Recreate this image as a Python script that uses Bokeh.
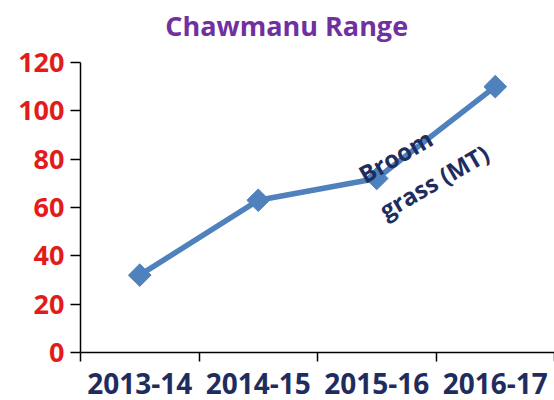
from bokeh.plotting import figure
from bokeh.models import Range1d, FixedTicker, Label, ColumnDataSource
from bokeh.embed import file_html
from bokeh.resources import INLINE

categories = ["2013-14", "2014-15", "2015-16", "2016-17"]
values = [32, 63, 72, 110]
y_ticks = [0, 20, 40, 60, 80, 100, 120]
series_name = "Broom\ngrass (MT)"
title_text = "Chawmanu Range"

FONT = "Open Sans"
BLUE = "#4F81BD"
NAVY = "#1F2D5E"
RED = "#E41B1B"
PURPLE = "#7030A0"

W, H = 554, 400
BORDER_BOTTOM = 48
AXIS_TOP_PX = 62  # pixel position of the top (120) tick from the canvas top
frame_h = H - BORDER_BOTTOM
y_max = y_ticks[-1]
y_end = y_max * frame_h / (frame_h - AXIS_TOP_PX)

x_pos = [i + 0.5 for i in range(len(categories))]
src = ColumnDataSource(dict(x=x_pos, y=values, cat=categories))

p = figure(width=W, height=H, output_backend="svg", toolbar_location=None,
           x_range=Range1d(0, len(categories)), y_range=Range1d(0, y_end),
           min_border_left=80, min_border_right=0, min_border_top=0, min_border_bottom=BORDER_BOTTOM)
p.outline_line_color = None
p.grid.visible = False
p.background_fill_color = "white"
p.border_fill_color = "white"

p.line("x", "y", source=src, line_color=BLUE, line_width=5.5)
p.scatter("x", "y", source=src, marker="square", size=16, angle=45, angle_units="deg", color=BLUE)

# y axis
ya = p.yaxis[0]
ya.ticker = FixedTicker(ticks=y_ticks)
ya.bounds = (0, y_max)
ya.major_tick_out = 10
ya.major_tick_in = 0
ya.minor_tick_out = 0
ya.minor_tick_in = 0
ya.axis_line_color = "black"
ya.axis_line_width = 1.5
ya.major_tick_line_width = 1.5
ya.major_label_text_font = FONT
ya.major_label_text_font_style = "bold"
ya.major_label_text_font_size = "27px"
ya.major_label_text_color = RED
ya.major_label_standoff = 6

# x axis
xa = p.xaxis[0]
xa.ticker = FixedTicker(ticks=x_pos, minor_ticks=list(range(len(categories) + 1)))
xa.major_label_overrides = {x: c for x, c in zip(x_pos, categories)}
xa.major_tick_out = 0
xa.major_tick_in = 0
xa.minor_tick_out = 9
xa.minor_tick_in = 0
xa.minor_tick_line_color = "black"
xa.minor_tick_line_width = 1.5
xa.axis_line_width = 1.5
xa.major_label_text_font = FONT
xa.major_label_text_font_style = "bold"
xa.major_label_text_font_size = "28px"
xa.major_label_text_color = NAVY
xa.major_label_standoff = 11

p.add_layout(Label(x=1.74, y=135.3, text=title_text,
                   text_font=FONT, text_font_style="bold", text_font_size="27px",
                   text_color=PURPLE, text_align="center", text_baseline="alphabetic"))

p.add_layout(Label(x=2.45, y=65.6, text=series_name, angle=30, angle_units="deg",
                   text_font=FONT, text_font_style="bold", text_font_size="24px",
                   text_color=NAVY, text_align="left", text_baseline="middle",
                   text_line_height=1.25))

open("out.html", "w").write(file_html(p, INLINE))
